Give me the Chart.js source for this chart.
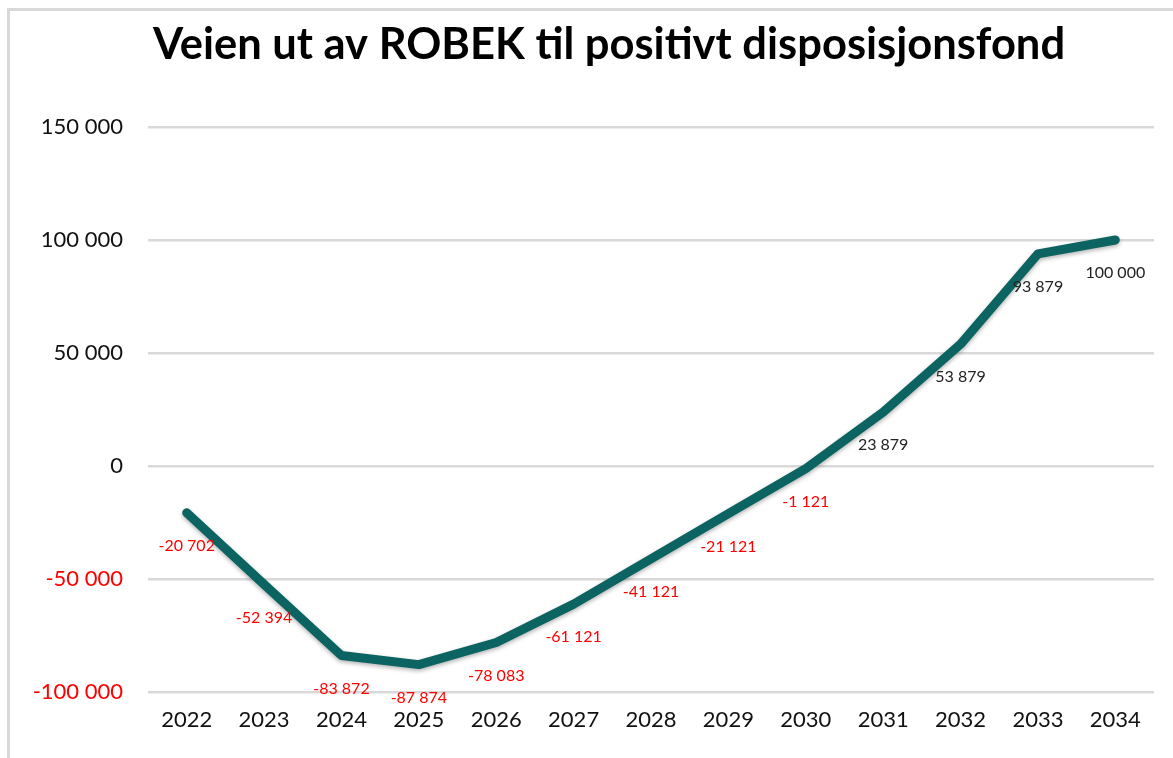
<!DOCTYPE html>
<html>
<head>
<meta charset="utf-8">
<script src="https://cdn.jsdelivr.net/npm/chart.js@4"></script>
<style>
	html, body { margin: 0; padding: 0; background: #fff; }
	#wrap { position: relative; width: 1173px; height: 758px; }
	#frame {
		position: absolute; left: 7px; top: 8px; right: 0; bottom: 0;
		border-top: 3px solid #d9d9d9; border-left: 3px solid #d9d9d9;
	}
	canvas { position: absolute; left: 0; top: 0; }
</style>
</head>
<body>
<div id="wrap">
	<div id="frame"></div>
	<canvas id="chart" width="1173" height="758"></canvas>
</div>
<script>
const years = ["2022", "2023", "2024", "2025", "2026", "2027", "2028", "2029", "2030", "2031", "2032", "2033", "2034"];
const balance = [-20702, -52394, -83872, -87874, -78083, -61121, -41121, -21121, -1121, 23879, 53879, 93879, 100000];
const yMin = -100000;
const yMax = 150000;
const yStep = 50000;
const titleText = "Veien ut av ROBEK til positivt disposisjonsfond";

const fmt = (v) => {
	const s = Math.abs(v).toString().replace(/\B(?=(\d{3})+(?!\d))/g, " ");
	return (v < 0 ? "-" : "") + s;
};

// title drawn by hand so it can sit a bit right of the canvas centre
const chartTitle = {
	id: "chartTitle",
	afterDraw(chart) {
		const ctx = chart.ctx;
		ctx.save();
		ctx.font = "bold 43.5px Lato";
		ctx.fillStyle = "#000";
		ctx.textAlign = "center";
		ctx.textBaseline = "middle";
		ctx.fillText(titleText, 609, 45);
		ctx.restore();
	},
};

// value labels under each point, red when negative
const valueLabels = {
	id: "valueLabels",
	afterDatasetsDraw(chart) {
		const ctx = chart.ctx;
		const meta = chart.getDatasetMeta(0);
		ctx.save();
		ctx.font = "16px Lato";
		ctx.textAlign = "center";
		ctx.textBaseline = "middle";
		meta.data.forEach((pt, i) => {
			const v = balance[i];
			ctx.fillStyle = v < 0 ? "#ff0000" : "#222";
			ctx.fillText(fmt(v), pt.x, pt.y + 33);
		});
		ctx.restore();
	},
};

const lineShadow = {
	id: "lineShadow",
	beforeDatasetDraw(chart) {
		const ctx = chart.ctx;
		ctx.save();
		ctx.shadowColor = "rgba(0,0,0,0.3)";
		ctx.shadowBlur = 4;
		ctx.shadowOffsetY = 2;
	},
	afterDatasetDraw(chart) {
		chart.ctx.restore();
	},
};

new Chart(document.getElementById("chart"), {
	type: "line",
	data: {
		labels: years,
		datasets: [
			{
				data: balance,
				borderColor: "#0b6461",
				borderWidth: 9,
				borderCapStyle: "round",
				borderJoinStyle: "round",
				pointRadius: 0,
				tension: 0,
				fill: false,
			},
		],
	},
	options: {
		responsive: false,
		animation: false,
		layout: { padding: { left: 0, right: 19, top: 127, bottom: 0 } },
		plugins: {
			legend: { display: false },
			tooltip: { enabled: false },
			title: { display: false },
		},
		scales: {
			x: {
				offset: true,
				grid: { display: false, drawTicks: false },
				border: { display: false },
				ticks: {
					color: "#111",
					font: { family: "Lato", size: 22 },
					padding: 15,
					maxRotation: 0,
				},
				afterFit: (s) => { s.height = 66; },
			},
			y: {
				min: yMin,
				max: yMax,
				grid: { color: "#d9d9d9", lineWidth: 2.5, drawTicks: false },
				border: { display: false },
				ticks: {
					stepSize: yStep,
					padding: 25,
					font: { family: "Lato", size: 22 },
					color: (c) => (c.tick.value < 0 ? "#ff0000" : "#111"),
					callback: (v) => fmt(v),
				},
				afterFit: (s) => { s.width = 148; },
			},
		},
	},
	plugins: [lineShadow, valueLabels, chartTitle],
});
</script>
</body>
</html>
